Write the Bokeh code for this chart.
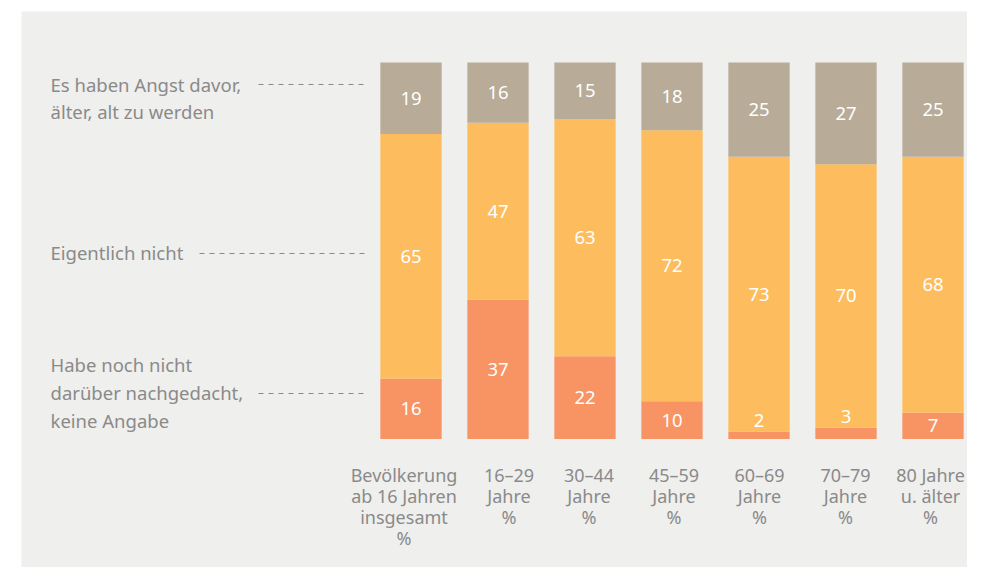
import numpy as np
from bokeh.plotting import figure
from bokeh.models import Range1d, ColumnDataSource
from bokeh.embed import file_html
from bokeh.resources import INLINE
from bokeh.core.properties import value

# ---------------- data ----------------
categories = [
    "Bevölkerung\nab 16 Jahren\ninsgesamt\n%",
    "16–29\nJahre\n%",
    "30–44\nJahre\n%",
    "45–59\nJahre\n%",
    "60–69\nJahre\n%",
    "70–79\nJahre\n%",
    "80 Jahre\nu. älter\n%",
]
keine_angabe = [16, 37, 22, 10, 2, 3, 7]
eigentlich_nicht = [65, 47, 63, 72, 73, 70, 68]
angst = [19, 16, 15, 18, 25, 27, 25]
series_labels = [
    "Habe noch nicht\ndarüber nachgedacht,\nkeine Angabe",
    "Eigentlich nicht",
    "Es haben Angst davor,\nälter, alt zu werden",
]

# ---------------- style ----------------
COLORS = ["#f89363", "#fdbd5e", "#b8ab98"]
BG = "#efefed"
TXT = "#8a8a8a"
FONT = "Noto Sans"
CAT_OFFSETS = [-7, 11, 4, 2, 0.5, -0.5, -2.5]   # pixel nudges of category labels

# layout helpers (pixels -> data units)
X0, PITCH, Y0, SCALE = 410.5, 87.0, 438.5, 3.765
def px(x):
    return (x - X0) / PITCH
def py(y):
    return (Y0 - y) / SCALE

W, H = 967, 567
p = figure(width=W, height=H, output_backend="svg", toolbar_location=None,
           x_axis_location=None, y_axis_location=None,
           x_range=Range1d(px(21), px(W)), y_range=Range1d(py(H), py(11)),
           min_border_left=21, min_border_top=11, min_border_right=0, min_border_bottom=0,
           background_fill_color=BG, border_fill_color="white", outline_line_color=None)
p.grid.visible = False

n = len(categories)
xs = list(range(n))
src = ColumnDataSource(dict(x=xs, k=keine_angabe, e=eigentlich_nicht, a=angst))
p.vbar_stack(["k", "e", "a"], x="x", width=61.3 / PITCH, color=COLORS, line_color=None, source=src)

# value labels
vals = np.array([keine_angabe, eigentlich_nicht, angst], dtype=float)
tops = np.cumsum(vals, axis=0)
bots = tops - vals
lx, ly, lt = [], [], []
for s in range(3):
    for i in range(n):
        v = vals[s, i]
        y = (bots[s, i] + tops[s, i]) / 2
        if v < 5:
            y = tops[s, i] + 3
        lx.append(xs[i]); ly.append(y); lt.append(str(int(v)))
p.text(x=lx, y=ly, text=lt, text_color="white", text_font=value(FONT),
       text_font_size="18.5px", text_align="center", text_baseline="middle")

# category labels
p.text(x=xs, y=[py(462)] * n, text=categories, x_offset=CAT_OFFSETS,
       text_color=TXT, text_font=value(FONT),
       text_font_size="18px", text_align="center", text_baseline="top",
       text_line_height=0.88)

# series labels on the left
p.text(x=[px(50)] * 3, y=[py(392), py(252), py(97.5)], text=series_labels,
       text_color=TXT, text_font=value(FONT), text_font_size="18.5px",
       text_align="left", text_baseline="middle", text_line_height=1.11)

# dashed leader lines
p.segment(x0=[px(258), px(199), px(258)], y0=[py(393), py(253), py(84)],
          x1=[px(364)] * 3, y1=[py(393), py(253), py(84)],
          line_color=TXT, line_width=1, line_dash="5 5")

open("out.html", "w").write(file_html(p, INLINE))
